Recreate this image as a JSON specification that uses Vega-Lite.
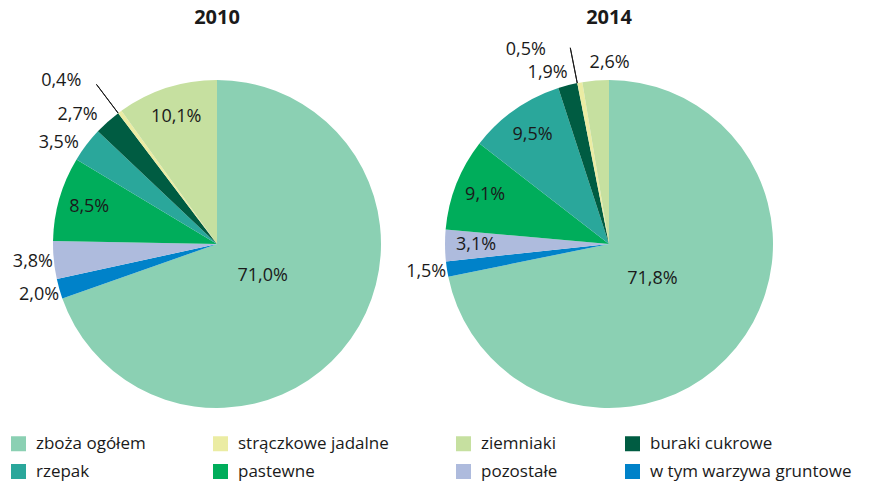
{
  "$schema": "https://vega.github.io/schema/vega-lite/v6.json",
  "padding": {"left": 10, "top": 8, "right": 5, "bottom": 5},
  "background": "white",
  "bounds": "flush",
  "config": {
    "locale": {"number": {"decimal": ",", "thousands": " ", "grouping": [3], "currency": ["", " zł"]}},
    "view": {"stroke": null},
    "font": "Open Sans"
  },
  "data": {
    "values": [
      {"year": "2010", "category": "zboża ogółem", "share": 0.710, "order": 1},
      {"year": "2010", "category": "w tym warzywa gruntowe", "share": 0.020, "order": 2},
      {"year": "2010", "category": "pozostałe", "share": 0.038, "order": 3},
      {"year": "2010", "category": "pastewne", "share": 0.085, "order": 4},
      {"year": "2010", "category": "rzepak", "share": 0.035, "order": 5},
      {"year": "2010", "category": "buraki cukrowe", "share": 0.027, "order": 6},
      {"year": "2010", "category": "strączkowe jadalne", "share": 0.004, "order": 7},
      {"year": "2010", "category": "ziemniaki", "share": 0.101, "order": 8},
      {"year": "2014", "category": "zboża ogółem", "share": 0.718, "order": 1},
      {"year": "2014", "category": "w tym warzywa gruntowe", "share": 0.015, "order": 2},
      {"year": "2014", "category": "pozostałe", "share": 0.031, "order": 3},
      {"year": "2014", "category": "pastewne", "share": 0.091, "order": 4},
      {"year": "2014", "category": "rzepak", "share": 0.095, "order": 5},
      {"year": "2014", "category": "buraki cukrowe", "share": 0.019, "order": 6},
      {"year": "2014", "category": "strączkowe jadalne", "share": 0.005, "order": 7},
      {"year": "2014", "category": "ziemniaki", "share": 0.026, "order": 8}
    ]
  },
  "facet": {
    "column": {
      "field": "year", "type": "nominal", "title": null,
      "header": {"labelFontSize": 20, "labelFontWeight": "bold", "labelPadding": 46, "labelColor": "#1a1a1a", "labelFont": "Open Sans"}
    }
  },
  "spacing": 22,
  "spec": {
    "width": 370,
    "height": 340,
    "layer": [
      {
        "mark": {"type": "arc", "radius": 164},
        "encoding": {
          "theta": {"field": "share", "type": "quantitative", "stack": "normalize"},
          "order": {"field": "order", "type": "quantitative"},
          "color": {
            "field": "category", "type": "nominal",
            "scale": {
              "domain": ["zboża ogółem", "strączkowe jadalne", "ziemniaki", "buraki cukrowe", "rzepak", "pastewne", "pozostałe", "w tym warzywa gruntowe"],
              "range": ["#8bd0b3", "#ebeca3", "#c6e0a0", "#005c42", "#2aa79b", "#00ad5b", "#aebbdd", "#0082c9"]
            },
            "legend": {
              "title": null, "orient": "none", "legendX": -22, "legendY": 361, "direction": "horizontal", "columns": 4,
              "symbolType": "square", "symbolSize": 225, "symbolStrokeWidth": 0,
              "labelFontSize": 17, "labelFont": "Open Sans", "labelColor": "#1a1a1a",
              "rowPadding": 10, "columnPadding": 66, "gridAlign": "each", "labelOffset": 9,
              "labelLimit": 300
            }
          }
        }
      },
      {
        "mark": {"type": "text", "radius": 56, "fontSize": 18, "font": "Open Sans", "color": "#1a1a1a"},
        "encoding": {
          "theta": {"field": "share", "type": "quantitative", "stack": "normalize"},
          "order": {"field": "order", "type": "quantitative"},
          "detail": {"field": "category"},
          "text": {"condition": {"test": "datum.share > 0.5", "field": "share", "type": "quantitative", "format": ".1%"}, "value": ""}
        }
      },
      {
        "mark": {"type": "text", "radius": 133, "fontSize": 18, "font": "Open Sans", "color": "#1a1a1a"},
        "encoding": {
          "theta": {"field": "share", "type": "quantitative", "stack": "normalize"},
          "order": {"field": "order", "type": "quantitative"},
          "detail": {"field": "category"},
          "text": {"condition": {"test": "datum.share < 0.5 && (datum.share >= 0.05 || (datum.year == '2014' && datum.share >= 0.03))", "field": "share", "type": "quantitative", "format": ".1%"}, "value": ""}
        }
      },
      {
        "mark": {"type": "text", "radius": 185, "fontSize": 18, "font": "Open Sans", "color": "#1a1a1a"},
        "encoding": {
          "theta": {"field": "share", "type": "quantitative", "stack": "normalize"},
          "order": {"field": "order", "type": "quantitative"},
          "detail": {"field": "category"},
          "text": {"condition": {"test": "datum.share >= 0.01 && datum.share < 0.05 && !(datum.year == '2014' && datum.share >= 0.03) && datum.order != 5 && datum.order != 6 && datum.order != 8", "field": "share", "type": "quantitative", "format": ".1%"}, "value": ""}
        }
      },
      {
        "mark": {"type": "text", "radius": 185, "fontSize": 18, "font": "Open Sans", "color": "#1a1a1a", "dx": -11, "dy": 11},
        "encoding": {
          "theta": {"field": "share", "type": "quantitative", "stack": "normalize"},
          "order": {"field": "order", "type": "quantitative"},
          "detail": {"field": "category"},
          "text": {"condition": {"test": "datum.order == 5 && datum.share < 0.05", "field": "share", "type": "quantitative", "format": ".1%"}, "value": ""}
        }
      },
      {
        "mark": {"type": "text", "radius": 188, "fontSize": 18, "font": "Open Sans", "color": "#1a1a1a", "dx": -14, "dy": 11},
        "encoding": {
          "theta": {"field": "share", "type": "quantitative", "stack": "normalize"},
          "order": {"field": "order", "type": "quantitative"},
          "detail": {"field": "category"},
          "text": {"condition": {"test": "datum.order == 6", "field": "share", "type": "quantitative", "format": ".1%"}, "value": ""}
        }
      },
      {
        "mark": {"type": "text", "radius": 188, "fontSize": 18, "font": "Open Sans", "color": "#1a1a1a", "dx": 16, "dy": 6},
        "encoding": {
          "theta": {"field": "share", "type": "quantitative", "stack": "normalize"},
          "order": {"field": "order", "type": "quantitative"},
          "detail": {"field": "category"},
          "text": {"condition": {"test": "datum.order == 8 && datum.share < 0.05", "field": "share", "type": "quantitative", "format": ".1%"}, "value": ""}
        }
      },
      {
        "mark": {"type": "text", "radius": 175, "fontSize": 18, "font": "Open Sans", "color": "#1a1a1a", "align": "right", "dx": -32, "dy": -22},
        "encoding": {
          "theta": {"field": "share", "type": "quantitative", "stack": "normalize"},
          "order": {"field": "order", "type": "quantitative"},
          "detail": {"field": "category"},
          "text": {"condition": {"test": "datum.share < 0.01", "field": "share", "type": "quantitative", "format": ".1%"}, "value": ""}
        }
      },
      {
        "transform": [
          {"stack": "share", "groupby": ["year"], "sort": [{"field": "order", "order": "ascending"}], "as": ["s0", "s1"], "offset": "normalize"},
          {"filter": "datum.share < 0.01"}
        ],
        "mark": {"type": "arc", "radius": 164, "radius2": 200, "fill": "transparent", "stroke": "#1a1a1a", "strokeWidth": 1},
        "encoding": {
          "theta": {"field": "s0", "type": "quantitative", "stack": null},
          "theta2": {"field": "s0"}
        }
      }
    ]
  }
}
